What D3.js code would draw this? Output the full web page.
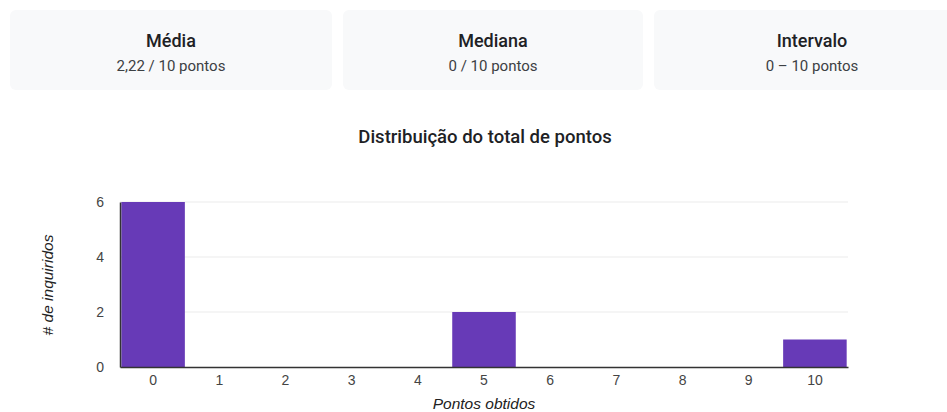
<!DOCTYPE html>
<html>
<head>
<meta charset="utf-8">
<script src="https://cdn.jsdelivr.net/npm/d3@7"></script>
<style>
  body { margin: 0; background: #fff; font-family: Roboto, sans-serif; }
</style>
</head>
<body>
<div id="chart"></div>
<script>
// summary cards
const cardTitles = ['Média', 'Mediana', 'Intervalo']
const cardValues = ['2,22 / 10 pontos', '0 / 10 pontos', '0 – 10 pontos']

// histogram
const categories = ['0', '1', '2', '3', '4', '5', '6', '7', '8', '9', '10']
const counts = [6, 0, 0, 0, 0, 2, 0, 0, 0, 0, 1]
const yTicks = [0, 2, 4, 6]

const width = 947
const height = 412
const axisFont = 'Arial, "Liberation Sans", sans-serif'

const svg = d3.select('#chart')
  .append('svg')
  .attr('width', width)
  .attr('height', height)

// cards (left edge, width)
const cardBoxes = [[10, 322], [343, 300], [654, 316]]

const card = svg.selectAll('g.card')
  .data(cardTitles)
  .enter()
  .append('g')
  .attr('class', 'card')
  .attr('transform', (d, i) => `translate(${cardBoxes[i][0]}, 10)`)

card.append('rect')
  .attr('width', (d, i) => cardBoxes[i][1])
  .attr('height', 80)
  .attr('rx', 6)
  .attr('fill', '#f8f9fa')

card.append('text')
  .attr('x', (d, i) => cardBoxes[i][1] / 2)
  .attr('y', 37)
  .attr('text-anchor', 'middle')
  .attr('font-size', 18)
  .attr('font-weight', 500)
  .attr('fill', '#202124')
  .text(d => d)

card.append('text')
  .attr('x', (d, i) => cardBoxes[i][1] / 2)
  .attr('y', 61)
  .attr('text-anchor', 'middle')
  .attr('font-size', 15)
  .attr('fill', '#3c4043')
  .text((d, i) => cardValues[i])

// chart title
svg.append('text')
  .attr('x', 485)
  .attr('y', 143)
  .attr('text-anchor', 'middle')
  .attr('font-size', 18.5)
  .attr('font-weight', 500)
  .attr('fill', '#202124')
  .text('Distribuição do total de pontos')

const plot = {left: 120, right: 848, top: 202, bottom: 367}

const x = d3.scaleBand()
  .domain(categories)
  .range([plot.left, plot.right])
  .paddingInner(0.04)
  .paddingOuter(0.02)

const y = d3.scaleLinear()
  .domain([0, 6])
  .range([plot.bottom, plot.top])

// gridlines
svg.append('g')
  .selectAll('line')
  .data(yTicks.filter(d => d > 0))
  .enter()
  .append('line')
  .attr('x1', plot.left)
  .attr('x2', plot.right)
  .attr('y1', d => y(d))
  .attr('y2', d => y(d))
  .attr('stroke', '#ebebeb')

// bars
svg.append('g')
  .selectAll('rect')
  .data(counts)
  .enter()
  .append('rect')
  .attr('x', (d, i) => x(categories[i]))
  .attr('y', d => y(d))
  .attr('width', x.bandwidth())
  .attr('height', d => plot.bottom - y(d))
  .attr('fill', '#673ab7')

// y axis
const yAxis = svg.append('g')
  .attr('transform', `translate(${plot.left},0)`)
  .call(d3.axisLeft(y).tickValues(yTicks).tickFormat(d3.format('d')).tickSize(0).tickPadding(16))
yAxis.select('.domain').attr('stroke', '#333').attr('stroke-width', 1.5)
yAxis.selectAll('text')
  .attr('font-family', axisFont)
  .attr('font-size', 14)
  .attr('fill', '#444')

// x axis
const xAxis = svg.append('g')
  .attr('transform', `translate(0,${plot.bottom})`)
  .call(d3.axisBottom(x).tickSize(0).tickPadding(8))
xAxis.select('.domain').attr('stroke', '#333').attr('stroke-width', 1.5)
xAxis.selectAll('text')
  .attr('font-family', axisFont)
  .attr('font-size', 14)
  .attr('fill', '#444')

// axis titles
svg.append('text')
  .attr('transform', 'translate(53,285) rotate(-90)')
  .attr('text-anchor', 'middle')
  .attr('font-family', axisFont)
  .attr('font-size', 15.5)
  .attr('font-style', 'italic')
  .attr('fill', '#222')
  .text('# de inquiridos')

svg.append('text')
  .attr('x', 484)
  .attr('y', 409)
  .attr('text-anchor', 'middle')
  .attr('font-family', axisFont)
  .attr('font-size', 15.5)
  .attr('font-style', 'italic')
  .attr('fill', '#222')
  .text('Pontos obtidos')
</script>
</body>
</html>
